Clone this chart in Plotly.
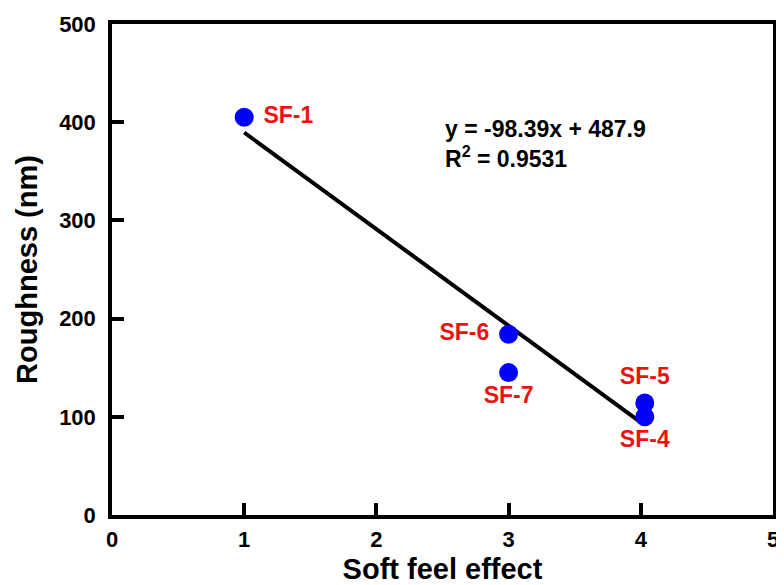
import plotly.graph_objects as go

# Data
samples = ["SF-1", "SF-6", "SF-7", "SF-5", "SF-4"]
soft_feel = [1.0, 3.0, 3.0, 4.03, 4.03]
roughness = [405, 184, 145, 114, 100]
label_pos = ["middle right", "middle left", "bottom center", "top center", "bottom center"]

# Linear fit y = -98.39x + 487.9 drawn between x=1 and x=4
trend_x = [1.0, 4.0]
trend_y = [389.5, 94.3]
eq_text = "y = -98.39x + 487.9<br>R<sup>2</sup> = 0.9531"

x_ticks = [0, 1, 2, 3, 4, 5]
y_ticks = [0, 100, 200, 300, 400, 500]

FONT = "Arial, Liberation Sans, sans-serif"

fig = go.Figure()
fig.add_trace(go.Scatter(
    x=trend_x, y=trend_y, mode="lines",
    line=dict(color="black", width=4), showlegend=False, hoverinfo="skip"))
fig.add_trace(go.Scatter(
    x=soft_feel, y=roughness, mode="markers+text",
    text=[" " + s + " " for s in samples], textposition=label_pos,
    textfont=dict(family=FONT, size=23, color="#ee1111", weight="bold"),
    marker=dict(color="#0000ff", size=19), showlegend=False))

fig.add_annotation(
    x=2.5, y=378, xref="x", yref="y", text=eq_text, showarrow=False,
    xanchor="left", yanchor="middle", align="left",
    font=dict(family=FONT, size=23, color="black", weight="bold"))

axis_common = dict(
    showline=True, linecolor="black", linewidth=3.5, mirror=True,
    ticks="inside", ticklen=12, tickwidth=3.5, tickcolor="black",
    showgrid=False, zeroline=False, automargin=False,
    tickfont=dict(family=FONT, size=22, color="black", weight="bold"),
)

# page body adds an 8px offset, so the figure is sized to fit the window
fig.update_layout(
    width=776, height=577,
    margin=dict(l=104, r=11, t=16, b=70),
    paper_bgcolor="white", plot_bgcolor="white",
    xaxis=dict(range=[0, 5], tickvals=x_ticks, ticktext=[str(v) for v in x_ticks],
               ticklabelstandoff=2,
               title=dict(text="Soft feel effect", standoff=18,
                          font=dict(family=FONT, size=29, color="black", weight="bold")),
               **axis_common),
    yaxis=dict(range=[0, 500], tickvals=y_ticks, ticktext=[str(v) for v in y_ticks],
               ticklabelstandoff=8,
               title=dict(text="Roughness (nm)", standoff=14,
                          font=dict(family=FONT, size=29, color="black", weight="bold")),
               **axis_common),
)

fig.write_html("out.html")
